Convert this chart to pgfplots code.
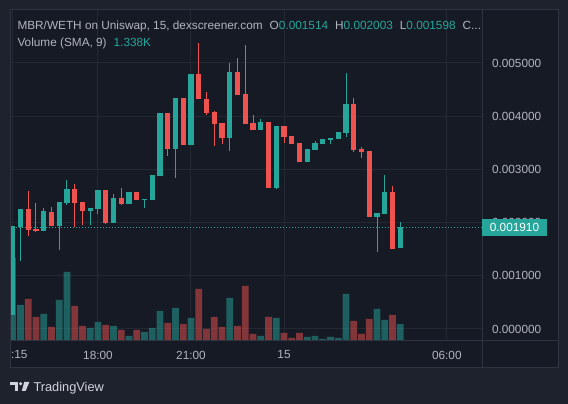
\documentclass[border=0pt]{standalone}
\usepackage{fontspec}
\setmainfont{Liberation Sans}
\usepackage{pgfplots}
\pgfplotsset{compat=1.18}
\usepackage{pgfplotstable}
\definecolor{outerbg}{HTML}{1E222D}
\definecolor{panebg}{HTML}{161A25}
\definecolor{gridc}{HTML}{242833}
\definecolor{borderc}{HTML}{2F3341}
\definecolor{txt}{HTML}{B2B5BE}
\definecolor{up}{HTML}{26A69A}
\definecolor{down}{HTML}{EF5350}
\definecolor{logoc}{HTML}{D1D4DC}

% candles: index, open, high, low, close (prices in units of 0.001)
\pgfplotstableread{
i o h l c
0 0.26 1.94 0.26 1.94
1 1.92 2.26 1.28 2.26
4 1.84 2.28 1.84 2.21
6 1.94 2.39 1.49 2.39
7 2.37 2.80 2.33 2.63
10 2.22 2.27 1.96 2.27
11 2.26 2.61 2.17 2.61
13 2.00 2.54 2.00 2.46
15 2.35 2.58 2.35 2.58
17 2.43 2.45 2.27 2.45
18 2.43 2.90 2.43 2.90
19 2.88 4.06 2.88 4.06
21 3.38 4.34 2.84 4.34
23 3.46 4.79 3.46 4.79
28 3.59 5.00 3.35 4.83
32 3.74 3.95 3.74 3.89
34 2.65 3.82 2.63 3.82
38 3.14 3.38 3.14 3.38
39 3.37 3.53 3.37 3.50
40 3.48 3.57 3.48 3.57
41 3.55 3.59 3.48 3.59
42 3.57 3.70 3.57 3.70
43 3.68 4.81 3.61 4.23
47 2.11 2.18 1.45 2.18
48 2.16 2.90 2.16 2.58
50 1.514 2.003 1.514 1.910
}\upc
\pgfplotstableread{
i o h l c
2 2.26 2.59 1.75 1.87
3 1.88 2.36 1.82 1.84
5 2.20 2.30 1.93 1.94
8 2.63 2.73 1.92 2.37
9 2.39 2.39 1.95 2.22
12 2.61 2.61 1.98 2.00
14 2.46 2.65 2.33 2.35
16 2.58 2.58 2.43 2.43
20 4.06 4.06 3.25 3.38
22 4.34 4.34 3.46 3.46
24 4.79 5.38 4.32 4.32
25 4.33 4.46 4.02 4.06
26 4.08 4.10 3.44 3.85
27 3.87 3.87 3.48 3.59
29 4.83 5.09 4.40 4.40
30 4.42 5.34 3.85 3.85
31 3.87 4.02 3.74 3.74
33 3.89 3.89 2.65 2.65
35 3.82 3.82 3.50 3.61
36 3.63 3.63 3.48 3.48
37 3.50 3.50 3.14 3.14
44 4.23 4.34 3.33 3.37
45 3.38 3.42 3.21 3.33
46 3.35 3.35 2.11 2.11
49 2.58 2.69 1.50 1.50
}\downc
% volume (relative units)
\pgfplotstableread{
i v
0 83
1 36
4 27
6 41
7 69
10 13
11 19
13 15
15 5
17 9
18 13
19 30
21 33
23 23
28 43
32 5
34 23
38 4
39 5
40 2
41 4
42 3
43 47
47 32
48 21
50 17
}\upvol
\pgfplotstableread{
i v
2 42
3 24
5 14
8 35
9 15
12 16
14 11
16 11
20 18
22 17
24 52
25 12
26 24
27 14
29 15
30 55
31 7
33 24
35 8
36 3
37 8
44 20
45 7
46 22
49 26
}\downvol

\pgfplotsset{
  tvaxis/.style={
    at={(10pt,63pt)}, anchor=south west,
    scale only axis, width=472pt, height=331pt,
    xmin=-0.348, xmax=60.54,
  },
  pricey/.style={ymin=-0.2256, ymax=5.996},
}
\newcommand{\tvfont}{\fontsize{11.8}{14}\selectfont}

\begin{document}
\begin{tikzpicture}[x=1pt,y=1pt]
\fill[outerbg] (0,0) rectangle (568,404);
\fill[panebg] (10,36) rectangle (558,394);

% grid and tick labels
\begin{axis}[tvaxis, pricey,
  axis line style={draw=none},
  ytick={0,1,2,3,4,5,6},
  yticklabels={0.000000,0.001000,0.002000,0.003000,0.004000,0.005000,0.006000},
  yticklabel pos=right,
  xtick={0,11,23,35,56},
  xticklabels={15:15,18:00,21:00,15,06:00},
  grid=major, major grid style={gridc, line width=1pt},
  major tick length=0pt,
  tick label style={font=\tvfont, text=txt},
  yticklabel style={anchor=west, xshift=6.5pt},
  xticklabel style={anchor=center, yshift=-14pt},
]
\addplot[draw=none, forget plot] coordinates {(0,0)};
\end{axis}

% volume
\begin{axis}[tvaxis, ymin=0, ymax=331, hide axis]
\addplot[ybar, bar width=6.6pt, bar shift=0pt, fill=up, fill opacity=0.5, draw=none] table[x=i,y=v]{\upvol};
\addplot[ybar, bar width=6.6pt, bar shift=0pt, fill=down, fill opacity=0.5, draw=none] table[x=i,y=v]{\downvol};
\end{axis}

% candles
\begin{axis}[tvaxis, pricey, hide axis]
\addplot[up, dash pattern=on 1pt off 2pt, line width=1pt] coordinates {(-0.348,1.91) (60.54,1.91)};
% wicks
\addplot[draw=none, mark=none, forget plot,
  error bars/.cd, y dir=plus, y explicit, error mark=none,
  error bar style={draw=up, line width=1pt}]
  table[x=i, y=l, y error expr={\thisrow{h}-\thisrow{l}}] {\upc};
\addplot[draw=none, mark=none, forget plot,
  error bars/.cd, y dir=plus, y explicit, error mark=none,
  error bar style={draw=down, line width=1pt}]
  table[x=i, y=l, y error expr={\thisrow{h}-\thisrow{l}}] {\downc};
% bodies
\addplot[draw=none, mark=none, forget plot,
  error bars/.cd, y dir=plus, y explicit, error mark=none,
  error bar style={draw=up, line width=5.2pt}]
  table[x=i, y=o, y error expr={max(\thisrow{c}-\thisrow{o},0.02)}] {\upc};
\addplot[draw=none, mark=none, forget plot,
  error bars/.cd, y dir=plus, y explicit, error mark=none,
  error bar style={draw=down, line width=5.2pt}]
  table[x=i, y=c, y error expr={max(\thisrow{o}-\thisrow{c},0.02)}] {\downc};
\end{axis}

% frame strips and dividers
\fill[outerbg] (0,0) rectangle (10,404);
\fill[outerbg] (0,394) rectangle (568,404);
\draw[borderc, line width=1pt] (482,36) -- (482,394);
\draw[borderc, line width=1pt] (10,63) -- (558,63);
\draw[borderc, line width=1pt] (10,36) rectangle (558,394);

% last price label
\fill[up] (482,168) rectangle (546.5,185);
\node[anchor=center, text=white, font=\tvfont, inner sep=0pt] at (514.5,176.5) {0.001910};

% header
\node[anchor=base west, inner sep=0pt, text=txt, font=\tvfont] at (17.3,374.7)
  {MBR/WETH on Uniswap, 15, dexscreener.com\hspace{7pt}O\textcolor{up}{0.001514}\hspace{7pt}H\textcolor{up}{0.002003}\hspace{7pt}L\textcolor{up}{0.001598}\hspace{7pt}C...};
\node[anchor=base west, inner sep=0pt, text=txt, font=\tvfont] at (17.3,357.3)
  {Volume (SMA, 9)\hspace{7pt}\textcolor{up}{1.338K}};

% TradingView logo
\fill[logoc] (10,22) rectangle (18.2,18.6);
\fill[logoc] (14.6,18.6) rectangle (18.2,13);
\fill[logoc] (20.6,20.3) circle (1.75);
\fill[logoc] (24.2,22) -- (29.4,22) -- (25.6,13) -- (21.8,13) -- cycle;
\node[anchor=base west, inner sep=0pt, text=logoc, font=\fontsize{12.8}{15}\selectfont] at (33.3,12.9) {TradingView};

\pgfresetboundingbox
\useasboundingbox (0,0) rectangle (568,404);
\end{tikzpicture}
\end{document}
